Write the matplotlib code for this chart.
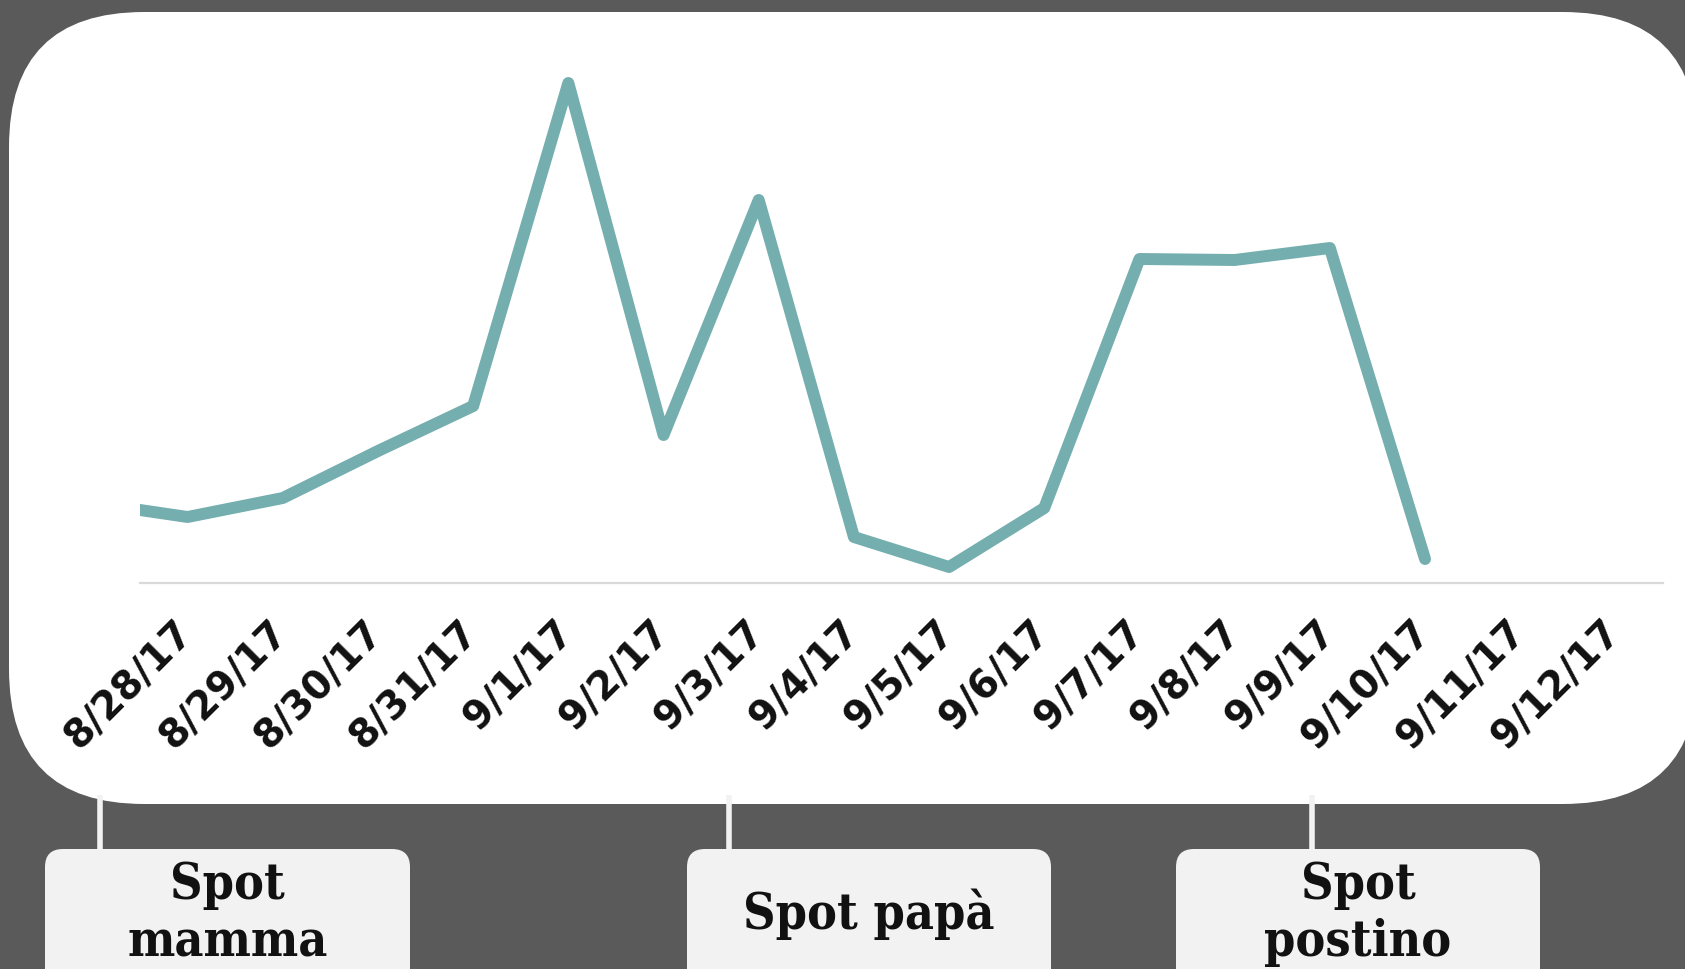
import matplotlib
matplotlib.use("Agg")
import matplotlib.pyplot as plt
from matplotlib.patches import FancyBboxPatch
from matplotlib.transforms import ScaledTranslation

# ---- data ----
dates = ["8/28/17", "8/29/17", "8/30/17", "8/31/17", "9/1/17", "9/2/17", "9/3/17",
         "9/4/17", "9/5/17", "9/6/17", "9/7/17", "9/8/17", "9/9/17", "9/10/17",
         "9/11/17", "9/12/17"]
# index -1 is the previous day (8/27/17), partly visible at the left edge
x_vals = [-1, 0, 1, 2, 3, 4, 5, 6, 7, 8, 9, 10, 11, 12, 13]
y_vals = [16.0, 13.2, 17.0, 26.4, 35.4, 100.0, 29.6, 76.6, 9.2, 3.2, 15.0, 64.8, 64.6, 67.0, 4.8]

spot_labels = ["Spot\nmamma", "Spot papà", "Spot\npostino"]

W, H = 1685, 969
BG = "#5a5a5a"
LINE = "#74aeae"
BOXC = "#f2f2f2"

fig = plt.figure(figsize=(W / 100, H / 100), dpi=100, facecolor=BG)

# decoration layer in pixel coordinates
bg = fig.add_axes([0, 0, 1, 1])
bg.set_xlim(0, W)
bg.set_ylim(H, 0)
bg.axis("off")
bg.set_facecolor(BG)

card = FancyBboxPatch((9, 12), 1698 - 9, 804 - 12,
                      boxstyle="round,pad=0,rounding_size=135",
                      fc="white", ec="none", zorder=1)
bg.add_patch(card)

box_specs = [(45, 410, 100), (687, 1051, 729), (1176, 1540, 1312)]
for (x0, x1, cx), lab in zip(box_specs, spot_labels):
    bg.add_patch(FancyBboxPatch((x0, 849), x1 - x0, 200,
                                boxstyle="round,pad=0,rounding_size=18",
                                fc=BOXC, ec="none", zorder=2))
    bg.plot([cx, cx], [795, 849], color=BOXC, lw=4, zorder=2,
            solid_capstyle="butt")
    bg.text((x0 + x1) / 2, 914, lab, ha="center", va="center",
            fontsize=36, fontweight="bold", family="DejaVu Serif",
            fontstretch="condensed", color="#111111",
            linespacing=1.22, zorder=3)

# data axes
left, right = 140, 1663
top, bottom = 20, 583
ax = fig.add_axes([left / W, 1 - bottom / H, (right - left) / W, (bottom - top) / H])
ax.patch.set_alpha(0)
ax.plot(x_vals, y_vals, color=LINE, lw=8.6, solid_joinstyle="round",
        solid_capstyle="round", zorder=3)
ax.set_xlim(-0.5, 15.5)
ax.set_ylim(0, (bottom - top) / 5.0)
for s in ["top", "left", "right"]:
    ax.spines[s].set_visible(False)
ax.spines["bottom"].set_color("#d9d9d9")
ax.spines["bottom"].set_linewidth(1.6)
ax.set_yticks([])
ax.set_xticks(range(len(dates)))
ax.set_xticklabels(dates)
ax.tick_params(axis="x", length=0, pad=22)
shift = ScaledTranslation(-10 / 72, 0, fig.dpi_scale_trans)
for t in ax.get_xticklabels():
    t.set_rotation(45)
    t.set_ha("right")
    t.set_rotation_mode("anchor")
    t.set_fontsize(28)
    t.set_fontweight("bold")
    t.set_color("#111111")
    t.set_transform(t.get_transform() + shift)

fig.savefig("out.png", dpi=100, facecolor=BG)
